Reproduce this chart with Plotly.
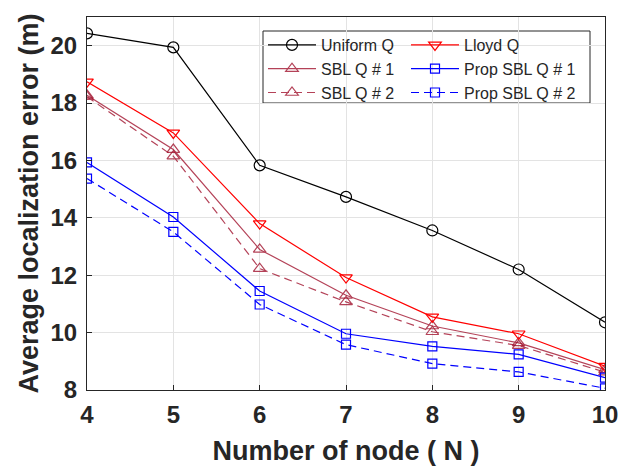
import plotly.graph_objects as go

nodes = [4, 5, 6, 7, 8, 9, 10]
uniform_q = [20.43, 19.94, 15.83, 14.73, 13.56, 12.20, 10.36]
lloyd_q = [18.74, 16.96, 13.80, 11.92, 10.55, 9.96, 8.83]
sbl_q1 = [18.27, 16.38, 12.90, 11.30, 10.23, 9.64, 8.71]
sbl_q2 = [18.22, 16.15, 12.23, 11.07, 10.03, 9.55, 8.62]
prop_sbl_q1 = [15.93, 14.03, 11.45, 9.96, 9.52, 9.24, 8.43]
prop_sbl_q2 = [15.37, 13.51, 10.98, 9.58, 8.92, 8.63, 8.06]

x_ticks = [4, 5, 6, 7, 8, 9, 10]
y_ticks = [8, 10, 12, 14, 16, 18, 20]

FONT = "Liberation Sans, Arial"
DARK = "#262626"

series = [
    ("Uniform Q", uniform_q, "#000000", "circle-open", 11, "solid", "legend"),
    ("SBL Q # 1", sbl_q1, "#A2142F", "triangle-up-open", 11, "solid", "legend"),
    ("SBL Q # 2", sbl_q2, "#A2142F", "triangle-up-open", 11, "8px,5px", "legend"),
    ("Lloyd Q", lloyd_q, "#FF0000", "triangle-down-open", 11, "solid", "legend2"),
    ("Prop SBL Q # 1", prop_sbl_q1, "#0000FF", "square-open", 9, "solid", "legend2"),
    ("Prop SBL Q # 2", prop_sbl_q2, "#0000FF", "square-open", 9, "8px,5px", "legend2"),
]

fig = go.Figure()
for name, ys, color, sym, msize, dash, leg in series:
    fig.add_trace(go.Scatter(
        x=nodes, y=ys, name=name, mode="lines+markers",
        line=dict(color=color, width=1.2, dash=dash),
        marker=dict(symbol=sym, size=msize, color=color, line=dict(width=1.2, color=color)),
        opacity=0.8 if color == "#A2142F" else 1.0,
        legend=leg,
    ))

axis_common = dict(
    showline=True, linecolor=DARK, linewidth=1, mirror=True,
    showgrid=True, gridcolor="#E3E3E3", gridwidth=1,
    ticks="inside", ticklen=5, tickcolor=DARK,
    tickfont=dict(family=FONT, size=24, color=DARK),
    zeroline=False, automargin=False,
)

# plot area in pixels: left 87, right 605, top 17, bottom 390
PL, PR, PT, PB = 87, 605, 17, 390
def px(xp):
    return (xp - PL) / (PR - PL)
def py(yp):
    return (PB - yp) / (PB - PT)

legend_common = dict(
    orientation="v", xanchor="left", yanchor="top",
    bgcolor="rgba(0,0,0,0)", borderwidth=0,
    font=dict(size=16, family=FONT, color=DARK),
    itemwidth=48, tracegroupgap=0,
)

fig.update_layout(
    width=627, height=466,
    margin=dict(l=PL, r=627 - PR, t=PT, b=466 - PB, autoexpand=False),
    paper_bgcolor="white", plot_bgcolor="white",
    font=dict(family=FONT, color=DARK),
    xaxis=dict(range=[4, 10], tickvals=x_ticks,
               ticktext=["<b>%d</b>" % v for v in x_ticks],
               ticklabelstandoff=3,
               title=dict(text="<b>Number of node ( N )</b>",
                          font=dict(size=27, family=FONT, color=DARK),
                          standoff=14),
               **axis_common),
    yaxis=dict(range=[8, 21], tickvals=y_ticks,
               ticktext=["<b>%d</b>" % v for v in y_ticks],
               ticklabelstandoff=4,
               title=dict(text="<b>Average localization error (m)</b>",
                          font=dict(size=27, family=FONT, color=DARK),
                          standoff=4),
               **axis_common),
    legend=dict(x=px(263), y=py(28), **legend_common),
    legend2=dict(x=px(406), y=py(28), **legend_common),
    showlegend=True,
    shapes=[dict(type="rect", xref="paper", yref="paper",
                 x0=px(263), x1=px(590), y0=py(103), y1=py(31),
                 line=dict(color=DARK, width=1), fillcolor="white", layer="below")],
)

fig.write_html("out.html", config={"displayModeBar": False},
               post_script="document.body.style.margin='0';")
